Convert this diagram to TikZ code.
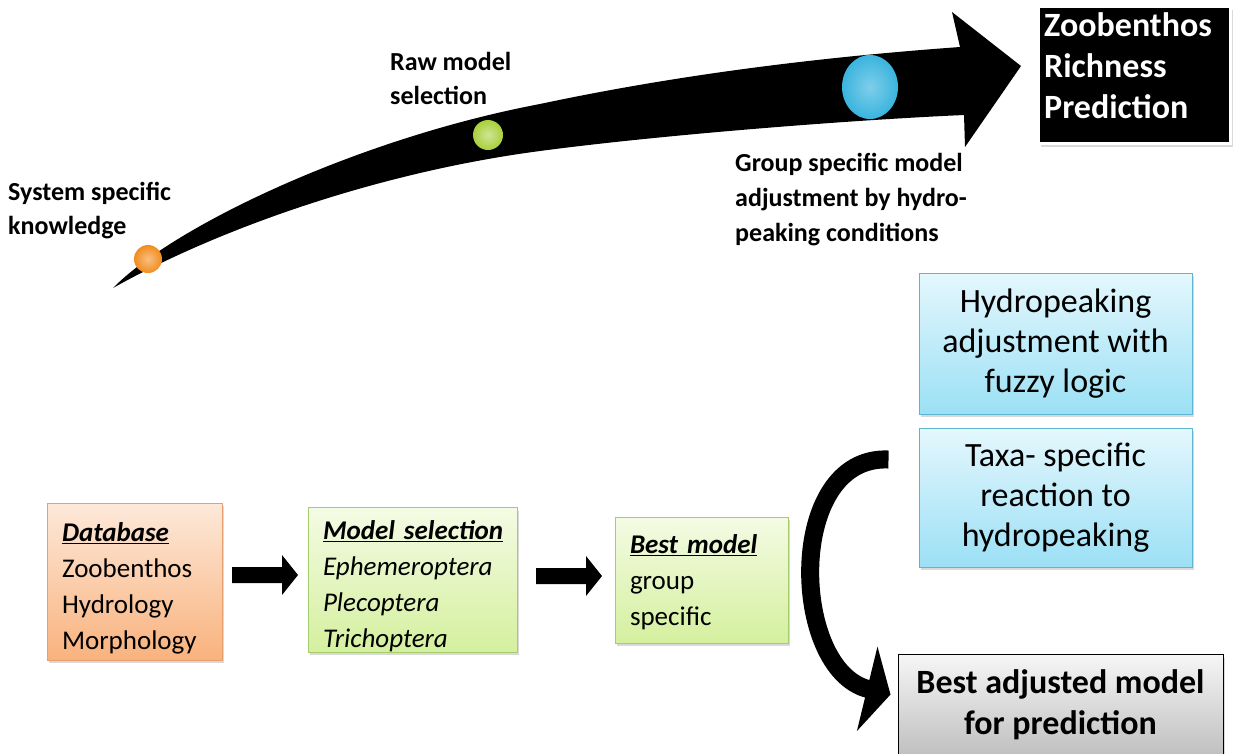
\documentclass[tikz,border=0pt]{standalone}
\usepackage{fontspec}
\setmainfont{Carlito}
\usetikzlibrary{calc,arrows.meta,shadows}

\definecolor{dbtop}{RGB}{253,233,218}
\definecolor{dbbot}{RGB}{249,178,125}
\definecolor{dbline}{RGB}{230,160,112}
\definecolor{grtop}{RGB}{244,251,228}
\definecolor{grbot}{RGB}{212,240,158}
\definecolor{grline}{RGB}{165,205,110}
\definecolor{bltop}{RGB}{228,247,253}
\definecolor{blbot}{RGB}{155,224,245}
\definecolor{blline}{RGB}{95,180,210}
\definecolor{gytop}{RGB}{246,246,246}
\definecolor{gybot}{RGB}{192,192,192}
\definecolor{dotorange}{RGB}{242,140,30}
\definecolor{dotgreen}{RGB}{168,208,60}
\definecolor{dotblue}{RGB}{58,180,222}

\begin{document}
\begin{tikzpicture}[x=1pt,y=-1pt,
  lbl/.style={font=\fontsize{26}{34}\selectfont\bfseries, align=left, inner sep=0pt, anchor=base west},
  shad/.style={drop shadow={opacity=0.3,shadow xshift=2pt,shadow yshift=-3pt}},
  smallbox/.style={shad, line width=1pt, align=left, inner xsep=15pt, inner ysep=0pt,
    font=\fontsize{27}{36}\selectfont},
  bluebox/.style={shad, draw=blline, line width=1pt, top color=bltop, bottom color=blbot,
    minimum width=273pt, align=center, inner sep=0pt, font=\fontsize{34}{40}\selectfont},
  blockarrow/.style={fill=black},
  dot/.style={shading=radial}
]
\useasboundingbox (0,0) rectangle (1236,753);

% ---------- big curved arrow ----------
\fill[black] (113,288) .. controls (175,225) and (360,138) .. (540,104)
  .. controls (700,70) and (850,55) .. (960,47)
  -- (952,12) -- (1021,66) -- (965,147) -- (964,115)
  .. controls (850,120) and (660,135) .. (540,151)
  .. controls (380,172) and (220,228) .. (113,288) -- cycle;

\shade[dot, inner color=dotorange!55!white, outer color=dotorange] (148,259) circle[radius=14pt];
\shade[dot, inner color=dotgreen!55!white, outer color=dotgreen] (488,135) circle[radius=15pt];
\shade[dot, inner color=dotblue!65!white, outer color=dotblue] (870,87) ellipse[x radius=28pt, y radius=32pt];

% labels (base anchor = baseline of the last line)
\node[lbl] (sys) at (8,234) {System specific\\knowledge};
\node[lbl] (raw) at (390,104) {Raw model\\selection};
\node[lbl, font=\fontsize{26}{35}\selectfont\bfseries] (grp) at (735,241)
  {Group specific model\\adjustment by hydro-\\peaking conditions};

% ---------- result box ----------
\node[shad, draw=white, line width=3pt, fill=black, anchor=north west,
  minimum width=192pt, minimum height=137pt] (zrp) at (1037,5) {};
\node[anchor=base west, inner sep=0pt, align=left, text=white,
  font=\fontsize{34}{41}\selectfont\bfseries] (zrptext) at (1044,118)
  {Zoobenthos\\Richness\\Prediction};

% ---------- lower workflow ----------
\node[smallbox, draw=dbline, top color=dbtop, bottom color=dbbot,
  minimum width=175pt, minimum height=157pt, text width=145pt] (db) at (134.5,581.5)
  {\rule{0pt}{32pt}\underline{\textbf{\textit{Database}}}\\Zoobenthos\\Hydrology\\Morphology};

\node[smallbox, draw=grline, top color=grtop, bottom color=grbot,
  minimum width=209pt, minimum height=144pt, text width=179pt] (ms) at (412.5,580)
  {\rule{0pt}{32pt}\underline{\textbf{\textit{Model selection}}}\\\textit{Ephemeroptera}\\\textit{Plecoptera}\\\textit{Trichoptera}};

\node[smallbox, draw=grline, top color=grtop, bottom color=grbot,
  minimum width=173pt, minimum height=126pt, text width=143pt] (bm) at (701.5,580)
  {\rule{0pt}{24pt}\underline{\textbf{\textit{Best model}}}\\group\\specific};

% block arrows between boxes
\coordinate (a1) at (232,575);
\coordinate (a2) at (536,576);
\foreach \c in {a1,a2}{
  \fill[blockarrow] ($(\c)+(0,-8)$) -- ($(\c)+(50,-8)$) -- ($(\c)+(50,-20)$) -- ($(\c)+(66,0)$)
    -- ($(\c)+(50,20)$) -- ($(\c)+(50,8)$) -- ($(\c)+(0,8)$) -- cycle;
}

% ---------- right column ----------
\node[bluebox, minimum height=141pt] (hyd) at (1055.5,343.5)
  {Hydropeaking\\adjustment with\\fuzzy logic};
\node[bluebox, minimum height=139pt] (taxa) at (1055.5,497.5)
  {Taxa- specific\\reaction to\\hydropeaking};

\node[shad, draw=black, line width=1pt, top color=gytop, bottom color=gybot,
  minimum width=325pt, minimum height=100pt, align=center, inner sep=0pt,
  font=\fontsize{34}{41}\selectfont\bfseries] (bam) at (1060.5,704.5)
  {Best adjusted model\\for prediction};

% curved arrow
\coordinate (cs) at ($(taxa.west)+(-30,-38)$);
\coordinate (ce) at ($(bam.west)+(-7,-10)$);
\draw[line width=18pt, -{Triangle[width=86pt,length=24pt]}]
  (cs) .. controls (785,455) and (790,670) .. (ce);
\end{tikzpicture}
\end{document}
